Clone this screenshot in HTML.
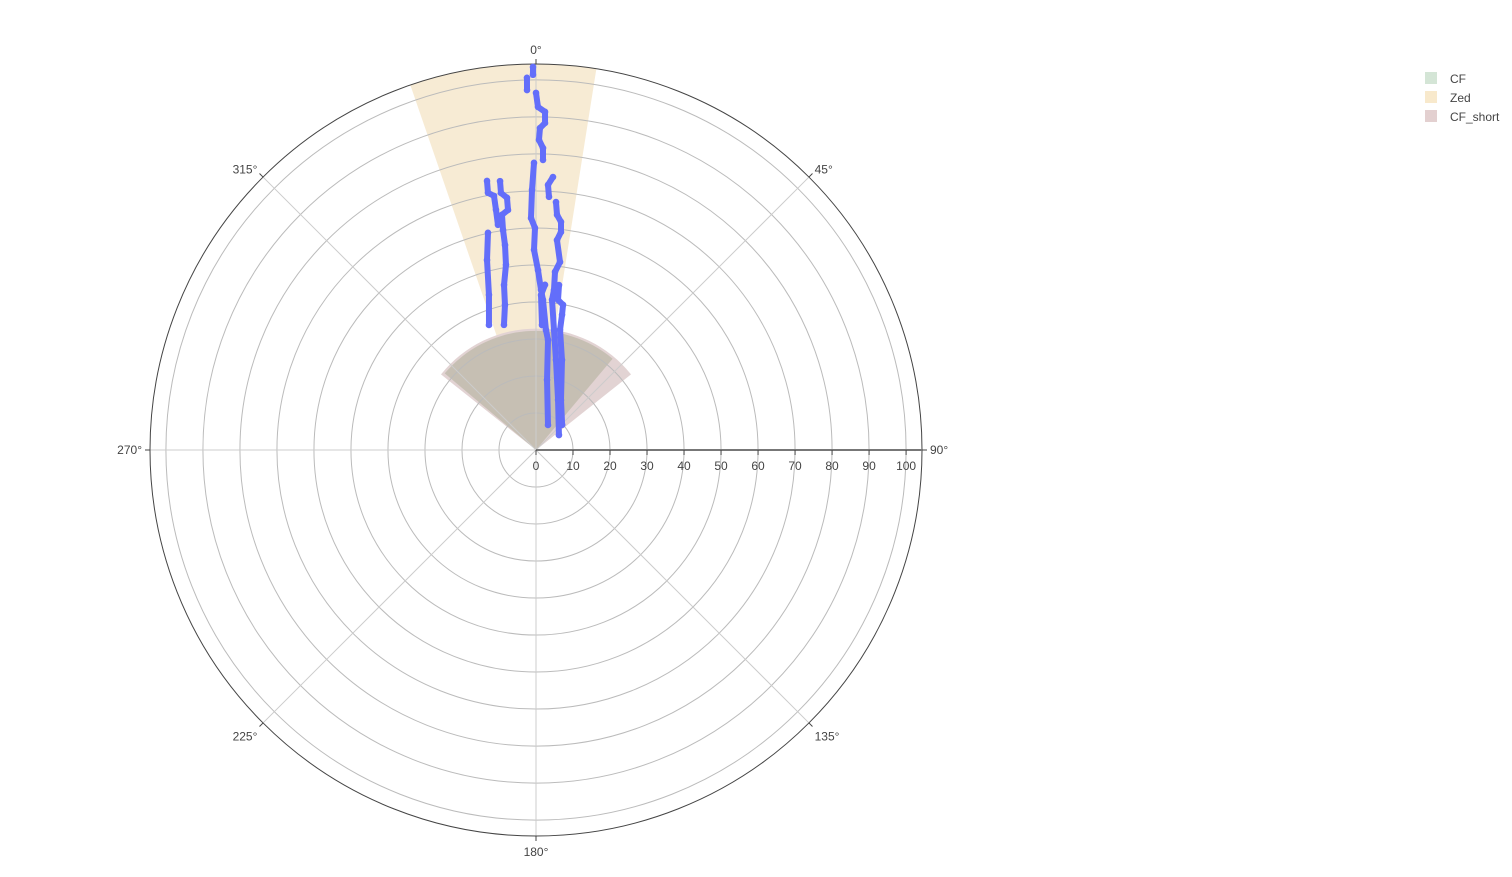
<!DOCTYPE html>
<html><head><meta charset="utf-8"><style>
body{margin:0;background:#fff;font-family:"Liberation Sans",Arial,sans-serif}
svg text{font-family:"Liberation Sans",Arial,sans-serif;font-size:12px;fill:#444}
</style></head><body>
<svg id="chart" width="1512" height="872"></svg>
<script>
const radialTicks=[0,10,20,30,40,50,60,70,80,90,100];
const angleTicks=[0,45,90,135,180,225,270,315];
const rMax=104.3;
const sectorNames=["Zed","CF_short","CF"];
const sectorStart=[-19,-51.5,-50];
const sectorEnd=[9,51.5,40];
const sectorRadius=[104.3,32.8,32.2];
const sectorColors=["#f7ebd4","#e2d3d3","#c6bfb3"];
const legendNames=["CF","Zed","CF_short"];
const legendColors=["#d4e5d6","#f8e9cc","#e3d0d0"];
const traceR=[
[103.5,101.4],
[100.6,97.3],
[96.5,92.7,91.4,88.4,87.0,83.8,81.6,78.4],
[77.6,70.3,62.7,60.0,54.1,48.6,43.3,40.6,32.5,29.9,19.2,7.5],
[73.9,70.7,69.6,65.8,61.7],
[60.1,53.0,43.8,36.1],
[73.3,70.1,68.6,65.3,64.2,60.1,56.0,50.7,45.4,40.1,34.9],
[73.9,71.7,68.5],
[67.2,63.8,62.0,59.3,57.0,51.2,48.4,43.5,40.8,32.8,24.9,14.8,7.4],
[44.7,41.9,33.8],
[45.0,41.0,39.9,37.2,33.1,25.3,15.1,9.8]];
const traceTheta=[
[-0.45,-0.46],
[-1.39,-1.43],
[0,0.33,1.53,1.58,0.71,0.55,1.33,1.38],
[-0.40,-0.88,-1.23,-0.26,-0.57,0.64,1.79,2.67,4.76,6.23,8.93,25.6],
[-10.32,-10.58,-9.39,-9.46,-9.59],
[-12.47,-14.46,-16.87,-20.61],
[-7.62,-7.76,-6.56,-6.65,-8.23,-8.53,-8.60,-9.21,-10.97,-12.07,-14.36],
[3.56,2.59,2.94],
[4.61,5.11,6.26,6.54,5.71,7.28,6.09,6.42,6.09,8.53,12.53,23.75,56.9],
[3.12,1.85,2.75],
[7.94,8.34,10.55,10.90,11.31,16.11,26.57,46.1]];

const NS="http://www.w3.org/2000/svg";
const svg=document.getElementById('chart');
const cx=536,cy=450,R=386;
const rs=v=>v/rMax*R;
const px=(r,t)=>cx+rs(r)*Math.sin(t*Math.PI/180);
const py=(r,t)=>cy-rs(r)*Math.cos(t*Math.PI/180);
function mk(tag,attrs,parent){const e=document.createElementNS(NS,tag);for(const k in attrs)e.setAttribute(k,attrs[k]);(parent||svg).appendChild(e);return e;}

sectorNames.forEach((n,i)=>{
  const r=sectorRadius[i],a=sectorStart[i],b=sectorEnd[i];
  const d=`M${cx},${cy} L${px(r,a)},${py(r,a)} A${rs(r)},${rs(r)} 0 0 1 ${px(r,b)},${py(r,b)} Z`;
  const p=mk('path',{d:d,fill:sectorColors[i]});
  
  
});
radialTicks.forEach(t=>{if(t===0)return;
  const c=mk('circle',{cx:cx,cy:cy,r:rs(t),fill:'none',stroke:'#bbb','stroke-width':1});
  
  
});
angleTicks.forEach(a=>{
  const l=mk('line',{x1:cx,y1:cy,x2:px(rMax,a),y2:py(rMax,a),stroke:'#ccc','stroke-width':1});
  
  
});
const oc=mk('circle',{cx:cx,cy:cy,r:R,fill:'none',stroke:'#444','stroke-width':1});


angleTicks.forEach(a=>{
  const s=Math.sin(a*Math.PI/180),c=Math.cos(a*Math.PI/180);
  mk('line',{x1:cx+R*s,y1:cy-R*c,x2:cx+(R+5)*s,y2:cy-(R+5)*c,stroke:'#444'});
  const d=R+8;
  let lx=cx+d*s,ly=cy-d*c+4,anchor='middle';
  if(s>0.1)anchor='start';else if(s<-0.1)anchor='end';
  if(c>0.9)ly-=6;else if(c>0.1)ly-=2;
  if(c<-0.9)ly+=8;else if(c<-0.1)ly+=8;
  const t=mk('text',{x:lx,y:ly,'text-anchor':anchor});
  t.textContent=a+'°';
  
  
});
const ra=mk('line',{x1:cx,y1:cy,x2:cx+R,y2:cy,stroke:'#777','stroke-width':2});


radialTicks.forEach(t=>{
  mk('line',{x1:cx+rs(t),y1:cy,x2:cx+rs(t),y2:cy+5,stroke:'#444'});
  const tx=mk('text',{x:cx+rs(t),y:cy+20,'text-anchor':'middle'});
  tx.textContent=t;
  
  
});
traceR.forEach((rArr,i)=>{
  const g=mk('g',{});
  
  
  const pts=rArr.map((r,j)=>px(r,traceTheta[i][j])+','+py(r,traceTheta[i][j])).join(' ');
  mk('polyline',{points:pts,fill:'none',stroke:'#636efa','stroke-width':6,'stroke-linejoin':'round','stroke-linecap':'round'},g);
  rArr.forEach((r,j)=>{
    const c=mk('circle',{cx:px(r,traceTheta[i][j]),cy:py(r,traceTheta[i][j]),r:3.3,fill:'#636efa'},g);
    
    
  });
});
legendNames.forEach((n,i)=>{
  const g=mk('g',{});
  
  
  mk('rect',{x:1425,y:72+i*19,width:12,height:12,fill:legendColors[i]},g);
  const t=mk('text',{x:1450,y:83+i*19},g);
  t.textContent=n;
});
</script>
</body></html>
